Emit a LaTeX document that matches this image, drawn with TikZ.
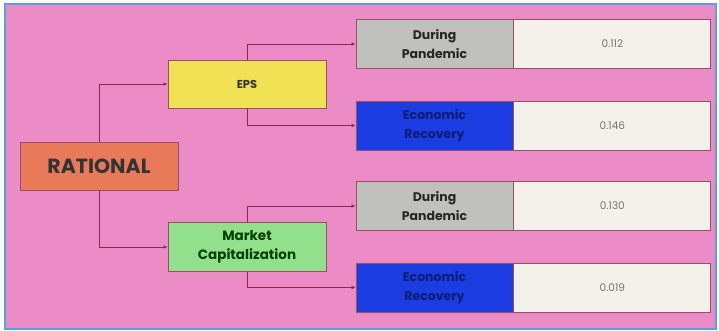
\documentclass[tikz,border=0pt]{standalone}
\usepackage{fontspec}
\setmainfont{Poppins}
\usetikzlibrary{arrows.meta}
\definecolor{bgpink}{RGB}{236,140,198}
\definecolor{frameblue}{RGB}{88,160,222}
\definecolor{salmon}{RGB}{232,122,90}
\definecolor{eps}{RGB}{240,226,84}
\definecolor{mcgreen}{RGB}{146,224,140}
\definecolor{dpgrey}{RGB}{192,192,190}
\definecolor{erblue}{RGB}{26,60,224}
\definecolor{valbg}{RGB}{243,241,234}
\definecolor{conn}{RGB}{140,40,80}
\definecolor{edge}{RGB}{150,80,100}
\tikzset{
  box/.style={draw=edge, line width=0.8pt, minimum height=48pt, inner sep=0pt, align=center, font=\bfseries, text=black!85},
  lbl/.style={box, minimum width=157pt, minimum height=49pt, font=\bfseries\fontsize{12.5}{19}\selectfont},
  val/.style={box, minimum width=197pt, minimum height=49pt, fill=valbg, font=\fontsize{10.5}{12}\selectfont, text=black!55},
  conline/.style={draw=conn, line width=0.6pt, -{Latex[length=4pt,width=3.5pt]}},
}
\begin{document}
\begin{tikzpicture}[x=1pt,y=-1pt]
\useasboundingbox (0,0) rectangle (719,331);
\fill[white] (0,0) rectangle (719,331);
\draw[frameblue, fill=bgpink, line width=2pt] (5,4) rectangle (716,329);
\node[box, fill=salmon, minimum width=158pt, font=\bfseries\fontsize{20.5}{22}\selectfont, text=black!80] (rat) at (99,166) {RATIONAL};
\node[box, fill=eps, minimum width=158pt, font=\bfseries\fontsize{11.5}{12}\selectfont, text=black!80] (eps) at (247,84) {EPS};
\node[box, fill=mcgreen, minimum width=158pt, minimum height=49pt, font=\bfseries\fontsize{13.5}{19}\selectfont, text=green!25!black] (mc) at (247,247) {Market\\Capitalization};
\node[lbl, fill=dpgrey] (dp1) at (434.5,44) {During\\Pandemic};
\node[val, anchor=west] (v1) at (dp1.east) {0.112};
\node[lbl, fill=erblue, text=erblue!50!black] (er1) at (434.5,125.5) {Economic\\Recovery};
\node[val, anchor=west] (v2) at (er1.east) {0.146};
\node[lbl, fill=dpgrey] (dp2) at (434.5,206) {During\\Pandemic};
\node[val, anchor=west] (v3) at (dp2.east) {0.130};
\node[lbl, fill=erblue, text=erblue!50!black] (er2) at (434.5,287.5) {Economic\\Recovery};
\node[val, anchor=west] (v4) at (er2.east) {0.019};
\draw[conline] (rat.north) |- (eps.west);
\draw[conline] (rat.south) |- (mc.west);
\draw[conline] (eps.center |- dp1.west) -- (dp1.west);
\draw[conn, line width=0.6pt] (eps.center |- dp1.west) -- (eps.north);
\draw[conn, line width=0.6pt] (eps.south) -- (eps.center |- er1.west);
\draw[conline] (eps.center |- er1.west) -- (er1.west);
\draw[conline] (mc.center |- dp2.west) -- (dp2.west);
\draw[conn, line width=0.6pt] (mc.center |- dp2.west) -- (mc.north);
\draw[conn, line width=0.6pt] (mc.south) -- (mc.center |- er2.west);
\draw[conline] (mc.center |- er2.west) -- (er2.west);
\end{tikzpicture}
\end{document}
